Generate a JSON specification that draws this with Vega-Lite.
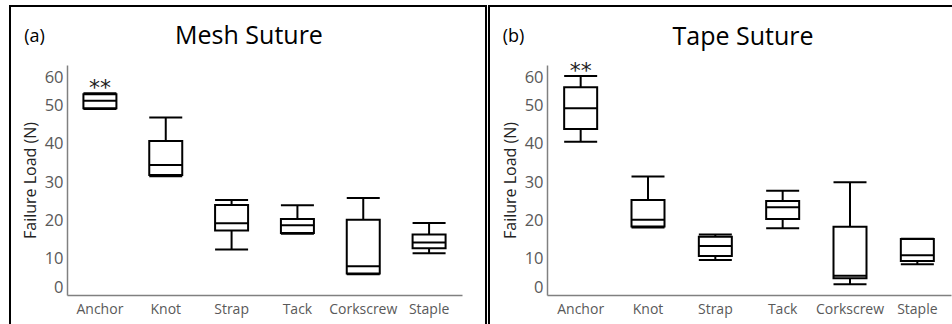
{
  "$schema": "https://vega.github.io/schema/vega-lite/v6.json",
  "padding": {"left": 9, "top": 5, "right": 0, "bottom": 0},
  "spacing": 1,
  "background": "white",
  "config": {
    "view": {"stroke": "black", "strokeWidth": 2},
    "font": "Open Sans",
    "axis": {"titleFontSize": 16, "titleFontWeight": "normal", "titleFont": "Open Sans"},
    "axisY": {"titleFontSize": 16, "titleFontWeight": "normal", "titleFont": "Open Sans", "titleColor": "#222222", "titlePadding": 6, "labelFontSize": 16.5, "labelColor": "#595959", "labelFont": "Open Sans"},
    "axisX": {"labelFontSize": 14, "labelColor": "#595959", "labelFont": "Open Sans", "titleFontSize": 18, "titleFontWeight": "normal", "titleFont": "Open Sans", "titleColor": "black"}
  },
  "datasets": {
    "mesh": [
      {"cat": "Anchor", "min": 48.5, "q1": 48.7, "median": 50.7, "q3": 52.4, "max": 52.6, "sig": "**"},
      {"cat": "Knot", "min": 31.0, "q1": 31.3, "median": 33.9, "q3": 40.2, "max": 46.3, "sig": ""},
      {"cat": "Strap", "min": 11.9, "q1": 16.8, "median": 18.7, "q3": 23.5, "max": 24.8, "sig": ""},
      {"cat": "Tack", "min": 16.0, "q1": 16.2, "median": 18.2, "q3": 19.8, "max": 23.4, "sig": ""},
      {"cat": "Corkscrew", "min": 5.4, "q1": 5.6, "median": 7.5, "q3": 19.6, "max": 25.3, "sig": ""},
      {"cat": "Staple", "min": 10.9, "q1": 12.2, "median": 13.7, "q3": 15.8, "max": 18.8, "sig": ""}
    ],
    "tape": [
      {"cat": "Anchor", "min": 40.0, "q1": 43.3, "median": 48.7, "q3": 54.2, "max": 57.1, "sig": "**"},
      {"cat": "Knot", "min": 17.6, "q1": 17.9, "median": 19.6, "q3": 24.8, "max": 30.9, "sig": ""},
      {"cat": "Strap", "min": 9.1, "q1": 10.2, "median": 12.8, "q3": 15.2, "max": 15.8, "sig": ""},
      {"cat": "Tack", "min": 17.4, "q1": 19.8, "median": 22.9, "q3": 24.5, "max": 27.2, "sig": ""},
      {"cat": "Corkscrew", "min": 2.8, "q1": 4.4, "median": 5.0, "q3": 17.8, "max": 29.4, "sig": ""},
      {"cat": "Staple", "min": 8.0, "q1": 8.9, "median": 10.4, "q3": 14.6, "max": 14.7, "sig": ""}
    ]
  },
  "hconcat": [
    {
      "width": 476,
      "height": 325,
      "data": {"name": "mesh"},
      "title": {"text": "Mesh Suture", "offset": -63, "baseline": "alphabetic", "fontSize": 25, "font": "Open Sans", "fontWeight": "normal", "color": "black", "anchor": "middle", "dx": 1},
      "encoding": {
        "x": {
          "field": "cat", "type": "nominal", "sort": null,
          "scale": {"range": [57, 452], "paddingInner": 0, "paddingOuter": 0},
          "axis": {"orient": "bottom", "offset": -36, "ticks": false, "domainColor": "#808080", "domainWidth": 1.5, "labelAngle": 0, "labelPadding": 7, "title": "(a)", "titleX": 24, "titleY": -259, "titleAlign": "center", "titleBaseline": "middle", "titleFontSize": 18}
        }
      },
      "layer": [
        {
          "mark": {"type": "rule", "strokeWidth": 2, "color": "black"},
          "encoding": {
            "y": {"field": "min", "type": "quantitative", "title": "Failure Load (N)",
              "scale": {"domain": [0, 60], "range": [289, 59], "nice": false, "zero": false},
              "axis": {"orient": "left", "offset": -57, "values": [0, 10, 20, 30, 40, 50, 60], "ticks": false, "grid": false, "domainColor": "#808080", "domainWidth": 1.5, "labelPadding": 4, "titleFontSize": 16, "titleFontWeight": "normal", "labelOffset": {"condition": [{"test": "datum.value == 0", "value": -8}, {"test": "datum.value == 60", "value": 12}], "value": 2}}},
            "y2": {"field": "max"}
          }
        },
        {
          "mark": {"type": "bar", "size": 33, "fill": "white", "stroke": "black", "strokeWidth": 2},
          "encoding": {"y": {"field": "q1", "type": "quantitative", "title": "Failure Load (N)", "axis": {"titleFontSize": 16}}, "y2": {"field": "q3"}}
        },
        {
          "mark": {"type": "tick", "size": 33, "thickness": 2, "color": "black", "opacity": 1},
          "encoding": {"y": {"field": "median", "type": "quantitative", "title": "Failure Load (N)", "axis": {"titleFontSize": 16}}}
        },
        {
          "mark": {"type": "tick", "size": 33, "thickness": 2, "color": "black", "opacity": 1},
          "encoding": {"y": {"field": "min", "type": "quantitative", "title": "Failure Load (N)", "axis": {"titleFontSize": 16}}}
        },
        {
          "mark": {"type": "tick", "size": 33, "thickness": 2, "color": "black", "opacity": 1},
          "encoding": {"y": {"field": "max", "type": "quantitative", "title": "Failure Load (N)", "axis": {"titleFontSize": 16}}}
        },
        {
          "mark": {"type": "text", "dy": -5, "fontSize": 22, "color": "#222222", "font": "DejaVu Sans"},
          "encoding": {"y": {"field": "max", "type": "quantitative", "title": "Failure Load (N)", "axis": {"titleFontSize": 16}}, "text": {"field": "sig"}}
        }
      ]
    },
    {
      "width": 470,
      "height": 325,
      "data": {"name": "tape"},
      "title": {"text": "Tape Suture", "offset": -64, "baseline": "alphabetic", "fontSize": 25, "font": "Open Sans", "fontWeight": "normal", "color": "black", "anchor": "middle", "dx": 19},
      "encoding": {
        "x": {
          "field": "cat", "type": "nominal", "sort": null,
          "scale": {"range": [58, 462], "paddingInner": 0, "paddingOuter": 0},
          "axis": {"orient": "bottom", "offset": -36, "ticks": false, "domainColor": "#808080", "domainWidth": 1.5, "labelAngle": 0, "labelPadding": 7, "title": "(b)", "titleX": 24, "titleY": -259, "titleAlign": "center", "titleBaseline": "middle", "titleFontSize": 18}
        }
      },
      "layer": [
        {
          "mark": {"type": "rule", "strokeWidth": 2, "color": "black"},
          "encoding": {
            "y": {"field": "min", "type": "quantitative", "title": "Failure Load (N)",
              "scale": {"domain": [0, 60], "range": [289, 59], "nice": false, "zero": false},
              "axis": {"orient": "left", "offset": -58, "values": [0, 10, 20, 30, 40, 50, 60], "ticks": false, "grid": false, "domainColor": "#808080", "domainWidth": 1.5, "labelPadding": 4, "titleFontSize": 16, "titleFontWeight": "normal", "labelOffset": {"condition": [{"test": "datum.value == 0", "value": -8}, {"test": "datum.value == 60", "value": 12}], "value": 2}}},
            "y2": {"field": "max"}
          }
        },
        {
          "mark": {"type": "bar", "size": 33, "fill": "white", "stroke": "black", "strokeWidth": 2},
          "encoding": {"y": {"field": "q1", "type": "quantitative", "title": "Failure Load (N)", "axis": {"titleFontSize": 16}}, "y2": {"field": "q3"}}
        },
        {
          "mark": {"type": "tick", "size": 33, "thickness": 2, "color": "black", "opacity": 1},
          "encoding": {"y": {"field": "median", "type": "quantitative", "title": "Failure Load (N)", "axis": {"titleFontSize": 16}}}
        },
        {
          "mark": {"type": "tick", "size": 33, "thickness": 2, "color": "black", "opacity": 1},
          "encoding": {"y": {"field": "min", "type": "quantitative", "title": "Failure Load (N)", "axis": {"titleFontSize": 16}}}
        },
        {
          "mark": {"type": "tick", "size": 33, "thickness": 2, "color": "black", "opacity": 1},
          "encoding": {"y": {"field": "max", "type": "quantitative", "title": "Failure Load (N)", "axis": {"titleFontSize": 16}}}
        },
        {
          "mark": {"type": "text", "dy": -5, "fontSize": 22, "color": "#222222", "font": "DejaVu Sans"},
          "encoding": {"y": {"field": "max", "type": "quantitative", "title": "Failure Load (N)", "axis": {"titleFontSize": 16}}, "text": {"field": "sig"}}
        }
      ]
    }
  ]
}
